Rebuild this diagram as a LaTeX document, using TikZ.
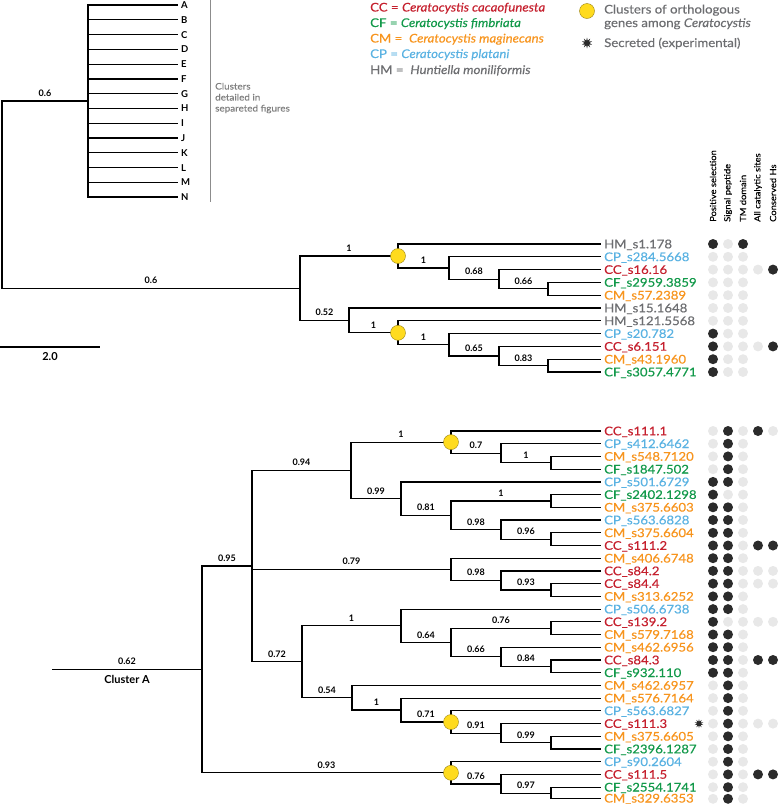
\documentclass[tikz,border=0pt]{standalone}
\usepackage{fontspec}
\setmainfont{Lato}
\newfontfamily\labfont{Lato}[Numbers=Monospaced, FakeStretch=1.1, FakeBold=0.4]
\usetikzlibrary{shapes.geometric}

\definecolor{ccred}{HTML}{C5202E}
\definecolor{cfgreen}{HTML}{12994A}
\definecolor{cmorange}{HTML}{F7941D}
\definecolor{cpblue}{HTML}{5AB2E2}
\definecolor{hmgray}{HTML}{6D6E71}
\definecolor{dk}{HTML}{2B2B2B}
\definecolor{lt}{HTML}{E8E8E8}
\definecolor{orthoyel}{HTML}{FFDB1E}

\tikzset{
  branch/.style={line width=1.2pt, draw=black},
  leaf/.style={anchor=west, inner xsep=3pt, inner ysep=0pt, text height=8.6pt, text depth=0pt, font=\labfont\fontsize{12}{12}\selectfont},
  grpleaf/.style={anchor=west, inner xsep=3pt, inner ysep=0pt, text height=7pt, text depth=0pt, font=\bfseries\fontsize{9.5}{10}\selectfont},
  blabel/.style={anchor=base, inner sep=0pt, yshift=4.5pt, font=\bfseries\fontsize{9}{9}\selectfont},
  legend/.style={anchor=west, inner sep=0pt, text height=8pt, text depth=0pt, font=\labfont\fontsize{12}{12}\selectfont},
  ortho/.style={circle, fill=orthoyel, draw=orthoyel!60!black, line width=0.4pt, minimum size=15pt, inner sep=0pt},
  secr/.style={star, star points=10, star point ratio=2.2, fill=dk, inner sep=0pt, minimum size=11pt},
  trait/.style={anchor=west, rotate=90, inner sep=0pt, font=\labfont\fontsize{8.5}{9}\selectfont},
}

% one row of trait dots
\newcommand{\traitrow}[6]{%
  \path[fill=#2] (713,#1) circle (5pt);
  \path[fill=#3] (728,#1) circle (5pt);
  \path[fill=#4] (743,#1) circle (5pt);
  \path[fill=#5] (758,#1) circle (5pt);
  \path[fill=#6] (773,#1) circle (5pt);
}

\begin{document}
\begin{tikzpicture}[x=1pt, y=-1pt]
  \useasboundingbox (0,0) rectangle (779,804);

  % legend
  \node[legend, text=ccred] (kcc) at (370,7.5) {CC = \textit{Ceratocystis cacaofunesta}};
  \node[legend, text=cfgreen] (kcf) at (370,23) {CF = \textit{Ceratocystis fimbriata}};
  \node[legend, text=cmorange] (kcm) at (370,38.5) {CM = \ \textit{Ceratocystis maginecans}};
  \node[legend, text=cpblue] (kcp) at (370,54) {CP = \textit{Ceratocystis platani}};
  \node[legend, text=hmgray] (khm) at (370,70) {HM = \ \textit{Huntiella moniliformis}};
  \node[ortho] (kortho) at (587,11) {};
  \node[legend, text=hmgray] (korthotxt) at (604,9.5) {Clusters of orthologous};
  \node[legend, text=hmgray] (korthotxt2) at (604,23) {genes among \textit{Ceratocystis}};
  \node[secr] (kstar) at (587,43) {};
  \node[legend, text=hmgray] (kstartxt) at (604,43) {Secreted (experimental)};

  % summary of clusters
  \coordinate (r0) at (2,194.6);
  \coordinate (g0) at (88,101);
  \node[grpleaf] (gA) at (178,5) {A};
  \node[grpleaf] (gB) at (178,19.8) {B};
  \node[grpleaf] (gC) at (178,34.5) {C};
  \node[grpleaf] (gD) at (178,49.3) {D};
  \node[grpleaf] (gE) at (178,64.1) {E};
  \node[grpleaf] (gF) at (178,78.9) {F};
  \node[grpleaf] (gG) at (178,93.6) {G};
  \node[grpleaf] (gH) at (178,108.4) {H};
  \node[grpleaf] (gI) at (178,123.2) {I};
  \node[grpleaf] (gJ) at (178,137.9) {J};
  \node[grpleaf] (gK) at (178,152.7) {K};
  \node[grpleaf] (gL) at (178,167.5) {L};
  \node[grpleaf] (gM) at (178,182.2) {M};
  \node[grpleaf] (gN) at (178,197) {N};
  \draw[branch] foreach \l in {A,B,C,D,E,F,G,H,I,J,K,L,M,N} {(g0) |- (g\l.west)};
  \draw[black!45, line width=0.8pt] (210,0) -- (210,202);
  \node[anchor=west, align=left, inner sep=0pt, text=black!50, font=\labfont\fontsize{9}{11}\selectfont] (gnote) at (215,98) {Clusters\\detailed in\\separeted figures};

  % outgroup tree
  \coordinate (o0) at (300,288.2);
  \coordinate (o1) at (398,256.0);
  \coordinate (o2) at (449,268.0);
  \coordinate (o3) at (499,279.2);
  \coordinate (o4) at (548,288.8);
  \coordinate (o5) at (349,320.4);
  \coordinate (o6) at (398,332.8);
  \coordinate (o7) at (449,344.8);
  \coordinate (o8) at (499,356.0);
  \coordinate (o9) at (548,365.6);
  \node[leaf, text=hmgray] (t1) at (601,244) {HM\_s1.178};
  \node[leaf, text=cpblue] (t2) at (601,256.8) {CP\_s284.5668};
  \node[leaf, text=ccred] (t3) at (601,269.6) {CC\_s16.16};
  \node[leaf, text=cfgreen] (t4) at (601,282.4) {CF\_s2959.3859};
  \node[leaf, text=cmorange] (t5) at (601,295.2) {CM\_s57.2389};
  \node[leaf, text=hmgray] (t6) at (601,308) {HM\_s15.1648};
  \node[leaf, text=hmgray] (t7) at (601,320.8) {HM\_s121.5568};
  \node[leaf, text=cpblue] (t8) at (601,333.6) {CP\_s20.782};
  \node[leaf, text=ccred] (t9) at (601,346.4) {CC\_s6.151};
  \node[leaf, text=cmorange] (t10) at (601,359.2) {CM\_s43.1960};
  \node[leaf, text=cfgreen] (t11) at (601,372) {CF\_s3057.4771};

  \draw[branch] (r0) |- node[blabel, pos=.75] {0.6} (g0)
                (r0) |- node[blabel, pos=.75] {0.6} (o0);
  \draw[branch] (o0) |- node[blabel, pos=.75] {1} (o1)
                (o0) |- node[blabel, pos=.75] {0.52} (o5);
  \draw[branch] (o1) |- (t1.west) (o1) |- node[blabel, pos=.75] {1} (o2);
  \draw[branch] (o2) |- (t2.west) (o2) |- node[blabel, pos=.75] {0.68} (o3);
  \draw[branch] (o3) |- (t3.west) (o3) |- node[blabel, pos=.75] {0.66} (o4);
  \draw[branch] (o4) |- (t4.west) (o4) |- (t5.west);
  \draw[branch] (o5) |- (t6.west) (o5) |- node[blabel, pos=.75] {1} (o6);
  \draw[branch] (o6) |- (t7.west) (o6) |- node[blabel, pos=.75] {1} (o7);
  \draw[branch] (o7) |- (t8.west) (o7) |- node[blabel, pos=.75] {0.65} (o8);
  \draw[branch] (o8) |- (t9.west) (o8) |- node[blabel, pos=.75] {0.83} (o9);
  \draw[branch] (o9) |- (t10.west) (o9) |- (t11.west);
  \node[ortho] (y1) at (o1) {};
  \node[ortho] (y2) at (o6) {};

  % scale bar
  \coordinate (s0) at (0,347);
  \coordinate (s1) at (100,347);
  \draw[branch] (s0) -- node[below=5pt, inner sep=0pt, font=\bfseries\fontsize{11}{12}\selectfont] (slab) {2.0} (s1);

  % trait columns
  \node[trait] (h1) at (713,222) {Positive selection};
  \node[trait] (h2) at (728,222) {Signal peptide};
  \node[trait] (h3) at (743,222) {TM domain};
  \node[trait] (h4) at (758,222) {All catalytic sites};
  \node[trait] (h5) at (773,222) {Conserved Hs};

  \traitrow{244}{dk}{lt}{dk}{none}{none}
  \traitrow{256.8}{lt}{lt}{lt}{none}{none}
  \traitrow{269.6}{lt}{lt}{lt}{lt}{dk}
  \traitrow{282.4}{lt}{lt}{lt}{none}{none}
  \traitrow{295.2}{lt}{lt}{lt}{none}{none}
  \traitrow{308}{lt}{lt}{lt}{none}{none}
  \traitrow{320.8}{lt}{lt}{lt}{none}{none}
  \traitrow{333.6}{dk}{lt}{lt}{none}{none}
  \traitrow{346.4}{dk}{lt}{lt}{lt}{dk}
  \traitrow{359.2}{dk}{lt}{lt}{none}{none}
  \traitrow{372}{dk}{lt}{lt}{none}{none}

  % cluster A
  \coordinate (cs) at (52,669.4);
  \coordinate (c0) at (202,669.4);
  \coordinate (c1) at (252,566.05);
  \coordinate (c2) at (351,470.35);
  \coordinate (c3) at (451,442.1);
  \coordinate (c4) at (501,453.25);
  \coordinate (c5) at (551,462.8);
  \coordinate (c6) at (401,498.6);
  \coordinate (c7) at (451,515.3);
  \coordinate (c8) at (551,501.0);
  \coordinate (c9) at (501,529.6);
  \coordinate (c10) at (551,539.15);
  \coordinate (c11) at (451,569.3);
  \coordinate (c12) at (501,580.45);
  \coordinate (c13) at (551,590.0);
  \coordinate (c14) at (302,661.75);
  \coordinate (c15) at (401,625.8);
  \coordinate (c16) at (451,642.5);
  \coordinate (c17) at (551,628.15);
  \coordinate (c18) at (501,656.8);
  \coordinate (c19) at (551,666.35);
  \coordinate (c20) at (352,697.7);
  \coordinate (c21) at (401,710.05);
  \coordinate (c22) at (451,722.0);
  \coordinate (c23) at (501,733.1);
  \coordinate (c24) at (551,742.65);
  \coordinate (c25) at (451,772.8);
  \coordinate (c26) at (501,783.95);
  \coordinate (c27) at (551,793.3);

  \node[leaf, text=ccred] (a1) at (601,431.0) {CC\_s111.1};
  \node[leaf, text=cpblue] (a2) at (601,443.7) {CP\_s412.6462};
  \node[leaf, text=cmorange] (a3) at (601,456.4) {CM\_s548.7120};
  \node[leaf, text=cfgreen] (a4) at (601,469.2) {CF\_s1847.502};
  \node[leaf, text=cpblue] (a5) at (601,481.9) {CP\_s501.6729};
  \node[leaf, text=cfgreen] (a6) at (601,494.6) {CF\_s2402.1298};
  \node[leaf, text=cmorange] (a7) at (601,507.3) {CM\_s375.6603};
  \node[leaf, text=cpblue] (a8) at (601,520.0) {CP\_s563.6828};
  \node[leaf, text=cmorange] (a9) at (601,532.8) {CM\_s375.6604};
  \node[leaf, text=ccred] (a10) at (601,545.5) {CC\_s111.2};
  \node[leaf, text=cmorange] (a11) at (601,558.2) {CM\_s406.6748};
  \node[leaf, text=ccred] (a12) at (601,570.9) {CC\_s84.2};
  \node[leaf, text=ccred] (a13) at (601,583.6) {CC\_s84.4};
  \node[leaf, text=cmorange] (a14) at (601,596.4) {CM\_s313.6252};
  \node[leaf, text=cpblue] (a15) at (601,609.1) {CP\_s506.6738};
  \node[leaf, text=ccred] (a16) at (601,621.8) {CC\_s139.2};
  \node[leaf, text=cmorange] (a17) at (601,634.5) {CM\_s579.7168};
  \node[leaf, text=cmorange] (a18) at (601,647.2) {CM\_s462.6956};
  \node[leaf, text=ccred] (a19) at (601,660.0) {CC\_s84.3};
  \node[leaf, text=cfgreen] (a20) at (601,672.7) {CF\_s932.110};
  \node[leaf, text=cmorange] (a21) at (601,685.4) {CM\_s462.6957};
  \node[leaf, text=cmorange] (a22) at (601,698.1) {CM\_s576.7164};
  \node[leaf, text=cpblue] (a23) at (601,710.8) {CP\_s563.6827};
  \node[leaf, text=ccred] (a24) at (601,723.6) {CC\_s111.3};
  \node[leaf, text=cmorange] (a25) at (601,736.3) {CM\_s375.6605};
  \node[leaf, text=cfgreen] (a26) at (601,749.0) {CF\_s2396.1287};
  \node[leaf, text=cpblue] (a27) at (601,761.7) {CP\_s90.2604};
  \node[leaf, text=ccred] (a28) at (601,774.4) {CC\_s111.5};
  \node[leaf, text=cfgreen] (a29) at (601,787.2) {CF\_s2554.1741};
  \node[leaf, text=cmorange] (a30) at (601,798.2) {CM\_s329.6353};

  \draw[branch] (cs) -- node[blabel, pos=.5] {0.62} (c0);
  \node[anchor=north, inner sep=0pt, font=\bfseries\fontsize{11}{12}\selectfont] (cname) at (127,675) {Cluster A};
  \draw[branch] (c0) |- node[blabel, pos=.75] {0.95} (c1)
                (c0) |- node[blabel, pos=.75] {0.93} (c25);
  \draw[branch] (c1) |- node[blabel, pos=.75] {0.94} (c2)
                (c1) |- node[blabel, pos=.75] {0.79} (c11)
                (c1) |- node[blabel, pos=.75] {0.72} (c14);
  \draw[branch] (c2) |- node[blabel, pos=.75] {1} (c3)
                (c2) |- node[blabel, pos=.75] {0.99} (c6);
  \draw[branch] (c3) |- (a1.west) (c3) |- node[blabel, pos=.75] {0.7} (c4);
  \draw[branch] (c4) |- (a2.west) (c4) |- node[blabel, pos=.75] {1} (c5);
  \draw[branch] (c5) |- (a3.west) (c5) |- (a4.west);
  \draw[branch] (c6) |- (a5.west) (c6) |- node[blabel, pos=.75] {0.81} (c7);
  \draw[branch] (c7) |- node[blabel, pos=.75] {1} (c8)
                (c7) |- node[blabel, pos=.75] {0.98} (c9);
  \draw[branch] (c8) |- (a6.west) (c8) |- (a7.west);
  \draw[branch] (c9) |- (a8.west) (c9) |- node[blabel, pos=.75] {0.96} (c10);
  \draw[branch] (c10) |- (a9.west) (c10) |- (a10.west);
  \draw[branch] (c11) |- (a11.west) (c11) |- node[blabel, pos=.75] {0.98} (c12);
  \draw[branch] (c12) |- (a12.west) (c12) |- node[blabel, pos=.75] {0.93} (c13);
  \draw[branch] (c13) |- (a13.west) (c13) |- (a14.west);
  \draw[branch] (c14) |- node[blabel, pos=.75] {1} (c15)
                (c14) |- node[blabel, pos=.75] {0.54} (c20);
  \draw[branch] (c15) |- (a15.west) (c15) |- node[blabel, pos=.75] {0.64} (c16);
  \draw[branch] (c16) |- node[blabel, pos=.75] {0.76} (c17)
                (c16) |- node[blabel, pos=.75] {0.66} (c18);
  \draw[branch] (c17) |- (a16.west) (c17) |- (a17.west);
  \draw[branch] (c18) |- (a18.west) (c18) |- node[blabel, pos=.75] {0.84} (c19);
  \draw[branch] (c19) |- (a19.west) (c19) |- (a20.west);
  \draw[branch] (c20) |- (a21.west) (c20) |- node[blabel, pos=.75] {1} (c21);
  \draw[branch] (c21) |- (a22.west) (c21) |- node[blabel, pos=.75] {0.71} (c22);
  \draw[branch] (c22) |- (a23.west) (c22) |- node[blabel, pos=.75] {0.91} (c23);
  \draw[branch] (c23) |- (a24.west) (c23) |- node[blabel, pos=.75] {0.99} (c24);
  \draw[branch] (c24) |- (a25.west) (c24) |- (a26.west);
  \draw[branch] (c25) |- (a27.west) (c25) |- node[blabel, pos=.75] {0.76} (c26);
  \draw[branch] (c26) |- (a28.west) (c26) |- node[blabel, pos=.75] {0.97} (c27);
  \draw[branch] (c27) |- (a29.west) (c27) |- (a30.west);
  \node[ortho] (y3) at (c3) {};
  \node[ortho] (y4) at (c22) {};
  \node[ortho] (y5) at (c25) {};
  \node[secr, minimum size=9pt] (star1) at (699,723.6) {};

  \traitrow{431.0}{lt}{dk}{lt}{dk}{lt}
  \traitrow{443.7}{lt}{dk}{lt}{none}{none}
  \traitrow{456.4}{lt}{dk}{lt}{none}{none}
  \traitrow{469.2}{lt}{dk}{lt}{none}{none}
  \traitrow{481.9}{dk}{dk}{lt}{none}{none}
  \traitrow{494.6}{dk}{lt}{lt}{none}{none}
  \traitrow{507.3}{dk}{dk}{lt}{none}{none}
  \traitrow{520.0}{dk}{dk}{lt}{none}{none}
  \traitrow{532.8}{dk}{dk}{lt}{none}{none}
  \traitrow{545.5}{dk}{dk}{lt}{dk}{dk}
  \traitrow{558.2}{dk}{dk}{lt}{none}{none}
  \traitrow{570.9}{dk}{dk}{lt}{lt}{lt}
  \traitrow{583.6}{dk}{dk}{lt}{lt}{lt}
  \traitrow{596.4}{dk}{dk}{lt}{none}{none}
  \traitrow{609.1}{dk}{dk}{lt}{none}{none}
  \traitrow{621.8}{dk}{lt}{lt}{lt}{lt}
  \traitrow{634.5}{dk}{dk}{lt}{none}{none}
  \traitrow{647.2}{dk}{dk}{lt}{none}{none}
  \traitrow{660.0}{dk}{dk}{lt}{dk}{dk}
  \traitrow{672.7}{dk}{dk}{lt}{none}{none}
  \traitrow{685.4}{lt}{dk}{lt}{none}{none}
  \traitrow{698.1}{lt}{dk}{lt}{none}{none}
  \traitrow{710.8}{lt}{dk}{lt}{none}{none}
  \traitrow{723.6}{lt}{dk}{lt}{lt}{lt}
  \traitrow{736.3}{lt}{dk}{lt}{none}{none}
  \traitrow{749.0}{lt}{dk}{lt}{none}{none}
  \traitrow{761.7}{lt}{dk}{lt}{none}{none}
  \traitrow{774.4}{lt}{dk}{lt}{dk}{dk}
  \traitrow{787.2}{lt}{dk}{lt}{none}{none}
  \traitrow{798.8}{lt}{dk}{lt}{none}{none}
\end{tikzpicture}
\end{document}
